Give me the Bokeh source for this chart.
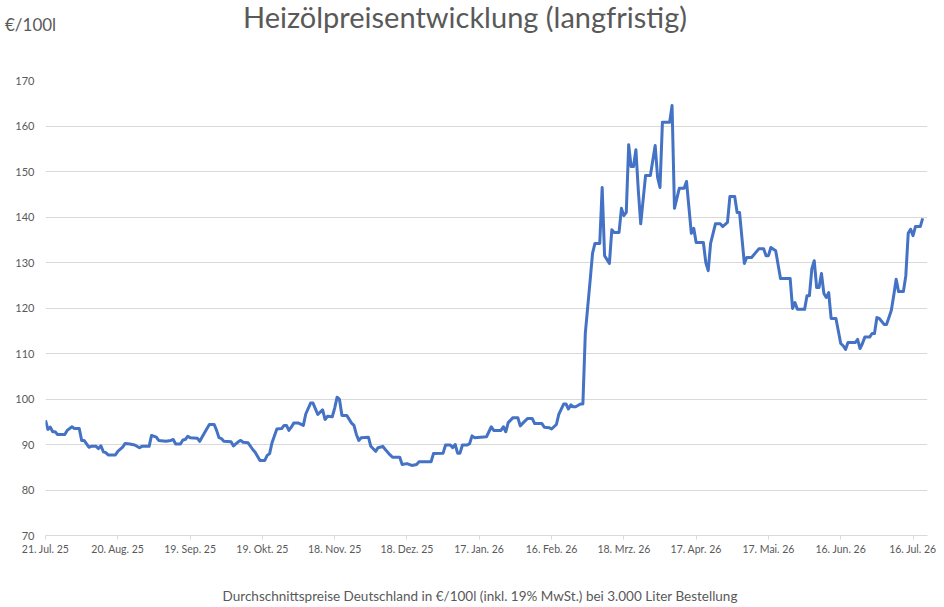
from bokeh.plotting import figure
from bokeh.models import FixedTicker, Range1d, Div
from bokeh.layouts import column
from bokeh.embed import file_html
from bokeh.resources import INLINE

# ---- data: days since 21.07.2025 and heating oil price in EUR/100l ----
start_date = "2025-07-21"
days = [0, 1, 2, 3, 4, 5, 8, 9, 11, 12, 14, 15, 16, 18, 19, 21, 22, 23, 24, 25,
        26, 29, 30, 32, 33, 35, 37, 39, 40, 43, 44, 46, 47, 50, 52, 53, 54, 56, 57, 58,
        59, 60, 63, 64, 66, 68, 70, 71, 72, 73, 74, 77, 78, 80, 81, 82, 84, 86, 87, 89,
        91, 92, 93, 94, 96, 98, 99, 100, 101, 102, 103, 105, 107, 108, 110, 111, 113, 114, 115, 116,
        117, 119, 120, 121, 122, 123, 125, 127, 128, 129, 130, 131, 134, 135, 137, 138, 140, 141, 143, 144,
        147, 148, 150, 152, 154, 155, 160, 161, 165, 166, 168, 169, 170, 171, 172, 173, 175, 176, 177, 178,
        183, 185, 186, 189, 190, 191, 192, 194, 196, 197, 199, 200, 202, 203, 206, 207, 209, 210, 212, 213,
        215, 216, 217, 218, 219, 220, 222, 223, 224, 226, 227, 228, 230, 231, 232, 234, 235, 236, 238, 239,
        240, 241, 242, 243, 244, 245, 246, 247, 249, 251, 253, 254, 255, 256, 259, 260, 261, 263, 265, 266,
        267, 268, 269, 270, 273, 274, 275, 276, 278, 280, 281, 283, 284, 286, 287, 288, 290, 291, 293, 296,
        298, 299, 300, 301, 303, 305, 309, 310, 311, 312, 315, 316, 317, 318, 319, 320, 321, 322, 323, 324,
        325, 326, 328, 330, 331, 332, 333, 336, 337, 338, 339, 340, 342, 343, 344, 345, 346, 348, 349, 350,
        351, 352, 353, 354, 356, 357, 358, 359, 360, 361, 363, 364]
prices = [95.3, 93.3, 93.8, 92.8, 92.8, 92.2, 92.2, 93.1, 93.9, 93.5, 93.5, 90.9, 90.9, 89.4, 89.6, 89.6, 89.1, 89.7, 88.4, 88.2,
          87.7, 87.7, 88.5, 89.4, 90.2, 90.1, 89.9, 89.3, 89.6, 89.6, 92.0, 91.6, 90.9, 90.7, 90.9, 91.1, 90.1, 90.1, 91.0, 91.1,
          91.8, 91.5, 91.4, 90.7, 92.6, 94.4, 94.4, 93.1, 91.5, 91.3, 90.7, 90.6, 89.7, 90.6, 90.9, 90.5, 90.4, 88.9, 88.3, 86.5,
          86.5, 87.6, 88.0, 90.4, 93.4, 93.5, 94.2, 94.2, 93.1, 93.8, 94.7, 94.7, 94.2, 96.7, 99.1, 99.1, 96.6, 97.1, 97.6, 95.5,
          96.2, 96.1, 98.0, 100.4, 99.9, 96.4, 96.4, 94.7, 94.2, 92.2, 90.9, 91.5, 91.6, 89.6, 88.5, 89.3, 89.6, 88.9, 87.7, 87.2,
          87.2, 85.6, 85.8, 85.4, 85.6, 86.2, 86.2, 88.0, 88.1, 89.9, 89.9, 89.3, 90.0, 88.1, 88.1, 89.9, 89.9, 90.2, 91.9, 91.5,
          91.7, 93.9, 93.1, 93.1, 93.9, 92.8, 94.8, 95.9, 95.9, 94.1, 95.2, 95.7, 95.7, 94.6, 94.6, 93.8, 93.7, 93.4, 94.4, 96.6,
          98.9, 98.9, 97.8, 98.7, 98.3, 98.3, 98.9, 98.9, 114.4, 126.0, 132.0, 134.2, 134.2, 146.5, 131.5, 129.8, 137.2, 136.6, 136.6, 141.9,
          140.3, 141.0, 155.9, 151.1, 151.1, 154.8, 145.8, 138.5, 149.1, 149.1, 155.7, 148.7, 146.5, 160.8, 160.8, 164.5, 141.9, 146.3, 146.3, 147.8,
          142.1, 136.4, 137.5, 134.4, 134.4, 130.0, 128.2, 134.2, 138.5, 138.5, 137.9, 138.8, 144.5, 144.5, 141.0, 141.0, 129.8, 131.1, 131.1, 133.0,
          133.0, 131.5, 131.5, 133.3, 132.6, 126.5, 126.5, 119.9, 121.2, 119.7, 119.7, 122.7, 122.7, 128.6, 130.4, 124.5, 124.5, 127.6, 123.2, 122.3,
          123.4, 117.7, 117.7, 112.2, 111.7, 110.9, 112.4, 112.4, 113.1, 111.1, 112.2, 113.6, 113.6, 114.4, 114.4, 117.9, 117.7, 116.4, 116.4, 117.9,
          119.5, 122.8, 126.3, 123.6, 123.6, 127.1, 136.4, 137.3, 135.9, 137.9, 137.9, 139.7]

tick_days = [0, 30, 60, 90, 120, 150, 180, 210, 240, 270, 300, 330, 360]
tick_labels = ["21. Jul. 25", "20. Aug. 25", "19. Sep. 25", "19. Okt. 25", "18. Nov. 25",
               "18. Dez. 25", "17. Jan. 26", "16. Feb. 26", "18. Mrz. 26", "17. Apr. 26",
               "17. Mai. 26", "16. Jun. 26", "16. Jul. 26"]
y_ticks = [70, 80, 90, 100, 110, 120, 130, 140, 150, 160, 170]

title_text = "Heizölpreisentwicklung (langfristig)"
unit_text = "€/100l"
footer_text = "Durchschnittspreise Deutschland in €/100l (inkl. 19% MwSt.) bei 3.000 Liter Bestellung"

FONT = "Lato"
GREY = "#595959"
W = 936      # figure width
DW = 928     # div width

top_html = (
    f'<div style="position:relative;width:{DW}px;height:61px;font-family:{FONT};color:{GREY};">'
    f'<div style="position:absolute;left:0px;top:10px;font-size:17px;line-height:20px;white-space:nowrap;">{unit_text}</div>'
    f'<div style="position:absolute;left:0px;width:920px;top:3px;text-align:center;font-size:29px;line-height:18px;white-space:nowrap;">{title_text}</div>'
    '</div>'
)
top = Div(text=top_html, width=DW, height=61)

p = figure(width=W, height=494, output_backend="svg", toolbar_location=None,
           x_range=Range1d(0, 366), y_range=Range1d(70, 170),
           min_border_left=45, min_border_right=9, min_border_top=9, min_border_bottom=30)
p.outline_line_color = None
p.background_fill_color = "white"
p.border_fill_color = "white"

p.line(days, prices, line_color="#4472C4", line_width=3, line_join="round")

# x axis
p.xaxis.ticker = FixedTicker(ticks=tick_days)
p.xaxis.major_label_overrides = {d: lab for d, lab in zip(tick_days, tick_labels)}
p.xaxis.axis_line_color = "#D9D9D9"
p.xaxis.major_tick_line_color = "#D9D9D9"
p.xaxis.major_tick_in = 0
p.xaxis.major_tick_out = 4
p.xaxis.minor_tick_line_color = None
p.xaxis.major_label_text_font = FONT
p.xaxis.major_label_text_font_size = "10.5px"
p.xaxis.major_label_text_color = GREY
p.xaxis.major_label_standoff = 3

# y axis
p.yaxis.ticker = FixedTicker(ticks=y_ticks)
p.yaxis.axis_line_color = None
p.yaxis.major_tick_line_color = None
p.yaxis.major_tick_in = 0
p.yaxis.major_tick_out = 0
p.yaxis.minor_tick_line_color = None
p.yaxis.major_label_text_font = FONT
p.yaxis.major_label_text_font_size = "11px"
p.yaxis.major_label_text_color = GREY
p.yaxis.major_label_standoff = 11

p.xgrid.grid_line_color = None
p.ygrid.grid_line_color = "#D9D9D9"
p.ygrid.grid_line_width = 1
p.ygrid.ticker = FixedTicker(ticks=y_ticks)

bottom_html = (
    f'<div style="position:relative;width:{DW}px;height:31px;font-family:{FONT};color:{GREY};">'
    f'<div style="position:absolute;left:16px;width:918px;top:18px;text-align:center;font-size:13.5px;line-height:16px;white-space:nowrap;">{footer_text}</div>'
    '</div>'
)
bottom = Div(text=bottom_html, width=DW, height=31)

layout = column(top, p, bottom, spacing=0)
open("out.html", "w").write(file_html(layout, INLINE))
